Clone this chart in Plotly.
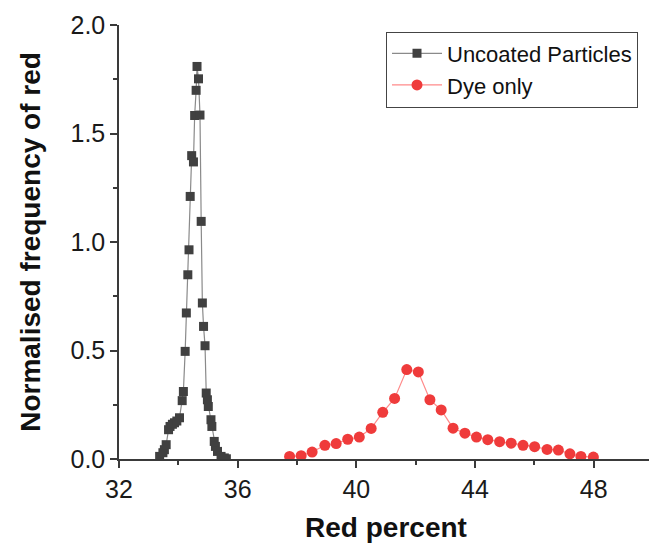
import plotly.graph_objects as go

# Uncoated Particles (black squares)
uncoated_x = [33.37, 33.48, 33.53, 33.59, 33.67, 33.72, 33.80, 33.87, 33.95, 34.04,
              34.13, 34.17, 34.23, 34.27, 34.32, 34.36, 34.40, 34.45, 34.51, 34.55,
              34.60, 34.63, 34.68, 34.73, 34.77, 34.81, 34.85, 34.90, 34.94, 34.98,
              35.01, 35.10, 35.13, 35.21, 35.25, 35.32, 35.44, 35.55, 35.62]
uncoated_y = [0.012, 0.029, 0.043, 0.066, 0.135, 0.150, 0.160, 0.167, 0.175, 0.190,
              0.269, 0.311, 0.496, 0.673, 0.849, 0.964, 1.210, 1.398, 1.369, 1.583,
              1.699, 1.809, 1.752, 1.585, 1.095, 0.719, 0.611, 0.522, 0.304, 0.273,
              0.242, 0.181, 0.150, 0.081, 0.058, 0.035, 0.012, 0.005, 0.001]

# Dye only (red circles)
dye_x = [37.75, 38.14, 38.51, 38.94, 39.32, 39.71, 40.10, 40.50, 40.89, 41.29,
         41.70, 42.09, 42.48, 42.86, 43.26, 43.66, 44.05, 44.43, 44.83, 45.22,
         45.62, 46.01, 46.43, 46.81, 47.20, 47.57, 47.99]
dye_y = [0.012, 0.015, 0.032, 0.063, 0.071, 0.091, 0.101, 0.141, 0.215, 0.279,
         0.412, 0.401, 0.273, 0.226, 0.142, 0.119, 0.101, 0.089, 0.080, 0.073,
         0.063, 0.057, 0.044, 0.041, 0.024, 0.012, 0.009]

x_tickvals = [32, 36, 40, 44, 48]
y_tickvals = [0.0, 0.5, 1.0, 1.5, 2.0]
y_ticktext = ["0.0", "0.5", "1.0", "1.5", "2.0"]

FONT = "Liberation Sans, Arial, sans-serif"

fig = go.Figure()
fig.add_trace(go.Scatter(
    x=uncoated_x, y=uncoated_y, mode="lines+markers", name="Uncoated Particles",
    line=dict(color="#8a8a8a", width=1.2),
    marker=dict(symbol="square", size=9, color="#404040"),
))
fig.add_trace(go.Scatter(
    x=dye_x, y=dye_y, mode="lines+markers", name="Dye only",
    line=dict(color="#ff8a8a", width=1.2),
    marker=dict(symbol="circle", size=11, color="#ef3b3b"),
))

axis_common = dict(
    showgrid=False, zeroline=False, showline=True, linecolor="#3a3a3a", linewidth=1.5,
    ticks="outside", tickcolor="#3a3a3a", tickwidth=1.5, ticklen=7,
    tickfont=dict(family=FONT, size=25, color="#1a1a1a"),
)

# page body has an 8px default margin; figure is sized/offset to compensate
fig.update_layout(
    width=649, height=536,
    margin=dict(l=111, r=2, t=17, b=85),
    paper_bgcolor="white", plot_bgcolor="white",
    font=dict(family=FONT, color="#111"),
    xaxis=dict(
        range=[32, 50], tickvals=x_tickvals, mirror=False,
        minor=dict(dtick=2, tick0=32, ticks="outside", ticklen=4, tickcolor="#3a3a3a", tickwidth=1.5),
        title=dict(text="<b>Red percent</b>", font=dict(family=FONT, size=28, color="#111"), standoff=16),
        **axis_common,
    ),
    yaxis=dict(
        range=[0, 2], tickvals=y_tickvals, ticktext=y_ticktext, mirror=True,
        minor=dict(dtick=0.25, tick0=0, ticks="outside", ticklen=4, tickcolor="#3a3a3a", tickwidth=1.5),
        title=dict(text="<b>Normalised frequency of red</b>", font=dict(family=FONT, size=28, color="#111"), standoff=22),
        **axis_common,
    ),
    legend=dict(
        x=0.5, y=0.985, xanchor="left", yanchor="top",
        bgcolor="white", bordercolor="#444", borderwidth=1,
        font=dict(family=FONT, size=22, color="#111"),
        tracegroupgap=0, itemwidth=50,
    ),
    showlegend=True,
)

fig.write_html("out.html")
